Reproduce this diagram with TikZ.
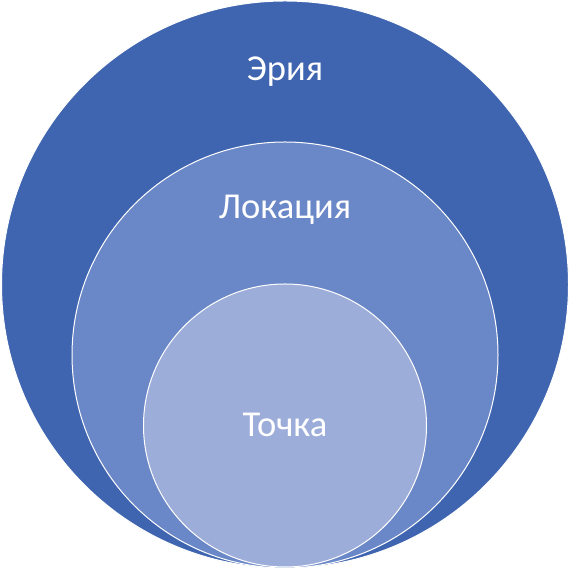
\documentclass[tikz,border=0pt]{standalone}
\usepackage{fontspec}
\setmainfont{Carlito}
\definecolor{cOuter}{RGB}{63,101,176}
\definecolor{cMid}{RGB}{106,136,199}
\definecolor{cIn}{RGB}{157,173,217}
\begin{document}
\begin{tikzpicture}[x=1pt,y=1pt,
  ring/.style={draw=white,line width=1pt},
  lbl/.style={text=white,font=\fontsize{36.5}{40}\selectfont,inner sep=0pt,anchor=center}]
\useasboundingbox (0,0) rectangle (570,569);
\fill[white] (0,0) rectangle (570,569);
\path[ring,fill=cOuter] (285,284.5) circle[radius=283.5];
\path[ring,fill=cMid] (285,214) circle[radius=213];
\path[ring,fill=cIn] (285,143.5) circle[radius=141.5];
\node[lbl] (a) at (285,497) {Эрия};
\node[lbl] (b) at (285,359) {Локация};
\node[lbl] (c) at (285,144) {Точка};
\end{tikzpicture}
\end{document}
